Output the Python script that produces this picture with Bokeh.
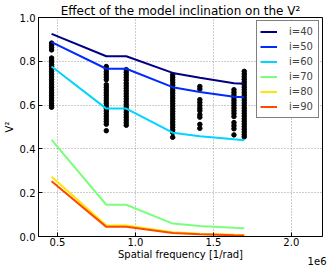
import math
from bokeh.plotting import figure
from bokeh.models import (Range1d, FixedTicker, CustomJSTickFormatter, Label,
                          Legend, LegendItem)
from bokeh.embed import file_html
from bokeh.resources import INLINE

# ---------------- data ----------------
freq = [0.462e6, 0.813e6, 0.941e6, 1.239e6, 1.413e6, 1.632e6, 1.698e6]

v2_i40 = [0.925, 0.823, 0.823, 0.747, 0.725, 0.700, 0.698]
v2_i50 = [0.888, 0.766, 0.766, 0.682, 0.660, 0.638, 0.636]
v2_i60 = [0.776, 0.584, 0.584, 0.474, 0.458, 0.444, 0.440]
v2_i70 = [0.441, 0.145, 0.145, 0.059, 0.048, 0.040, 0.038]
v2_i80 = [0.273, 0.050, 0.050, 0.019, 0.012, 0.008, 0.007]
v2_i90 = [0.252, 0.044, 0.044, 0.016, 0.010, 0.006, 0.005]
labels = ["i=40", "i=50", "i=60", "i=70", "i=80", "i=90"]
colors = ["#000080", "#002aff", "#00d4ff", "#7bff7b", "#ffe600", "#ff4800"]

obs_0462 = [0.883, 0.873, 0.862, 0.852, 0.815, 0.805, 0.795, 0.784, 0.777, 0.765,
            0.753, 0.741, 0.729, 0.717, 0.705, 0.693, 0.681, 0.669, 0.657, 0.645,
            0.633, 0.621, 0.609, 0.598, 0.590]
obs_0813 = [0.776, 0.765, 0.752, 0.740, 0.728, 0.716, 0.693, 0.681, 0.669, 0.657,
            0.645, 0.633, 0.621, 0.609, 0.597, 0.585, 0.573, 0.561, 0.549, 0.537,
            0.525, 0.513, 0.483]
obs_0941 = [0.762, 0.750, 0.738, 0.726, 0.714, 0.700, 0.688, 0.676, 0.664, 0.652,
            0.640, 0.628, 0.616, 0.604, 0.592, 0.580, 0.568, 0.556, 0.544, 0.532,
            0.520, 0.508]
obs_1239 = [0.739, 0.727, 0.715, 0.703, 0.691, 0.679, 0.667, 0.655, 0.643, 0.631,
            0.619, 0.607, 0.595, 0.583, 0.571, 0.559, 0.547, 0.535, 0.523, 0.511,
            0.499, 0.487, 0.475, 0.453]
obs_1413 = [0.685, 0.673, 0.625, 0.612, 0.598, 0.585, 0.574, 0.556, 0.545, 0.512, 0.494]
obs_1632 = [0.670, 0.658, 0.646, 0.634, 0.622, 0.610, 0.598, 0.586, 0.574, 0.562,
            0.548, 0.520, 0.506, 0.492, 0.464]
obs_1698 = [0.754, 0.742, 0.730, 0.718, 0.706, 0.694, 0.682, 0.670, 0.658, 0.646,
            0.634, 0.622, 0.610, 0.598, 0.586, 0.574, 0.562, 0.550, 0.538, 0.526,
            0.514, 0.502, 0.490, 0.478, 0.466, 0.455]
obs_cols = [obs_0462, obs_0813, obs_0941, obs_1239, obs_1413, obs_1632, obs_1698]

x_ticks = [0.5e6, 1.0e6, 1.5e6, 2.0e6]
y_ticks = [0.0, 0.2, 0.4, 0.6, 0.8, 1.0]

FONT = "DejaVu Sans"
W, H = 327, 270
BL, BR, BT, BB = 35, 5, 17, 31
FW, FH = W - BL - BR, H - BT - BB

p = figure(width=W, height=H,
           min_border_left=BL, min_border_right=BR, min_border_top=BT, min_border_bottom=BB,
           x_range=Range1d(0.378e6, 2.2e6), y_range=Range1d(0.0, 1.0),
           output_backend="svg", toolbar_location=None,
           title="Effect of the model inclination on the V²")
p.background_fill_color = "white"
p.border_fill_color = "white"
p.outline_line_color = "black"
p.outline_line_width = 1

p.title.text_font = FONT
p.title.text_font_size = "12px"
p.title.text_font_style = "normal"
p.title.text_color = "black"
p.title.align = "center"
p.title.standoff = 0
p.title.offset = 0

fmt_x = CustomJSTickFormatter(code="return (tick/1e6).toFixed(1)")
fmt_y = CustomJSTickFormatter(code="return tick.toFixed(1)")

for ax in p.xaxis:
    ax.ticker = FixedTicker(ticks=x_ticks)
    ax.formatter = fmt_x
    ax.major_label_standoff = 1
    ax.axis_label = "Spatial frequency [1/rad]"
    ax.axis_label_standoff = 0
for ax in p.yaxis:
    ax.ticker = FixedTicker(ticks=y_ticks)
    ax.formatter = fmt_y
    ax.major_label_standoff = 3
    ax.axis_label = "V²"
    ax.axis_label_standoff = 2
for ax in p.xaxis + p.yaxis:
    ax.major_tick_in = 4
    ax.major_tick_out = 0
    ax.minor_tick_line_color = None
    ax.axis_line_color = "black"
    ax.major_tick_line_color = "black"
    ax.major_label_text_font = FONT
    ax.major_label_text_font_size = "10px"
    ax.major_label_text_color = "black"
    ax.axis_label_text_font = FONT
    ax.axis_label_text_font_size = "10px"
    ax.axis_label_text_font_style = "normal"
    ax.axis_label_text_color = "black"

p.xgrid.ticker = FixedTicker(ticks=x_ticks)
p.ygrid.ticker = FixedTicker(ticks=y_ticks)
for g in (p.xgrid, p.ygrid):
    g.grid_line_color = "#9a9a9a"
    g.grid_line_dash = "1 2"
    g.grid_line_width = 1

# observations
ox, oy = [], []
for xv, col in zip(freq, obs_cols):
    ox += [xv] * len(col)
    oy += col
p.scatter(ox, oy, size=4.5, color="black")

# models
series = [v2_i40, v2_i50, v2_i60, v2_i70, v2_i80, v2_i90]
items = []
for lab, col, ys in zip(labels, colors, series):
    r = p.line(freq, ys, line_color=col, line_width=2)
    items.append(LegendItem(label=lab, renderers=[r]))

legend = Legend(items=items, location="top_right",
                label_text_font=FONT, label_text_font_size="10px",
                glyph_width=17, glyph_height=15, label_height=15, label_width=26,
                spacing=0, padding=3, margin=3, label_standoff=12,
                border_line_color="black", border_line_width=1,
                background_fill_color="white", background_fill_alpha=1)
p.add_layout(legend)

# offset text of the x axis, in the panel below the frame
p.add_layout(Label(x=FW + 1, y=10, x_units="screen", y_units="screen",
                   text="1e6", text_align="right", text_baseline="alphabetic",
                   text_line_height=0.3,
                   text_font=FONT, text_font_size="10px", text_color="black"), "below")

open("out.html", "w").write(file_html(p, INLINE))
